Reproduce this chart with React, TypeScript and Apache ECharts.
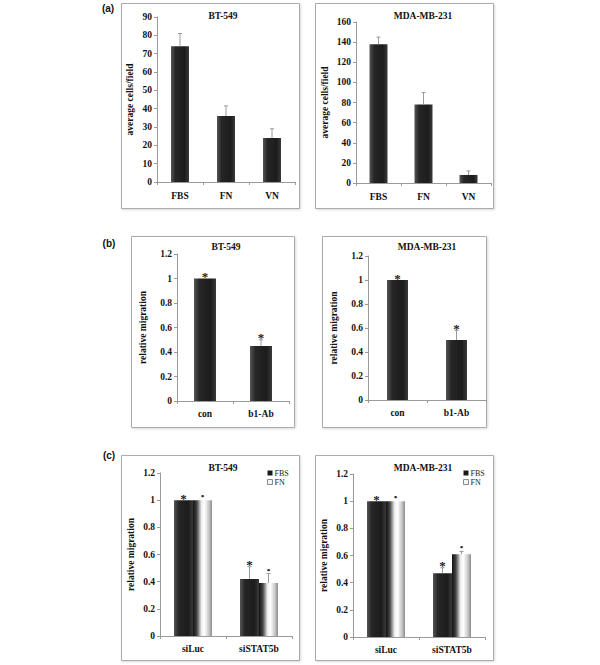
import React, { useEffect, useRef } from "react";
import * as echarts from "echarts";

// ---------- data ----------
const catsA = ["FBS", "FN", "VN"];
const bt549CellsA = [74, 36, 24];
const bt549CellsAErr = [7, 5.5, 5];
const mdaCellsA = [138, 78, 8];
const mdaCellsAErr = [7, 12, 4];

const catsB = ["con", "b1-Ab"];
const bt549MigB = [1, 0.45];
const bt549MigBErr = [0, 0.05];
const mdaMigB = [1, 0.5];
const mdaMigBErr = [0, 0.08];
const marksB = ["*", "*"];

const catsC = ["siLuc", "siSTAT5b"];
const bt549FbsC = [1, 0.42];
const bt549FbsCErr = [0, 0.09];
const bt549FnC = [1, 0.39];
const bt549FnCErr = [0, 0.07];
const mdaFbsC = [1, 0.47];
const mdaFbsCErr = [0, 0.04];
const mdaFnC = [1, 0.61];
const mdaFnCErr = [0, 0.02];
const marksFbsC = ["*", "*"];
const marksFnC = ["•", "•"];

const legendC = ["FBS", "FN"];

// ---------- styles / layout ----------
const SERIF = '"Liberation Serif", "Times New Roman", serif';
const SANS = '"Liberation Sans", Arial, sans-serif';
const AXIS_COLOR = "#9a9a9a";
const ERR_COLOR = "#9a9a9a";

const darkBar = new echarts.graphic.LinearGradient(0, 0, 1, 0, [
  { offset: 0, color: "#555" },
  { offset: 0.25, color: "#262626" },
  { offset: 0.75, color: "#1c1c1c" },
  { offset: 1, color: "#3a3a3a" },
]);
const lightBar = new echarts.graphic.LinearGradient(0, 0, 1, 0, [
  { offset: 0, color: "#111" },
  { offset: 0.2, color: "#444" },
  { offset: 0.45, color: "#eee" },
  { offset: 0.6, color: "#fff" },
  { offset: 0.85, color: "#c4c4c4" },
  { offset: 1, color: "#8a8a8a" },
]);

const grids = [
  { left: 157, top: 17, width: 138, height: 165 },
  { left: 356, top: 22, width: 135, height: 161 },
  { left: 177, top: 254, width: 112, height: 147 },
  { left: 368, top: 256, width: 118, height: 144 },
  { left: 160, top: 473, width: 132, height: 163 },
  { left: 353, top: 474, width: 132, height: 163 },
];

const boxes = [
  [121, 3, 178, 205],
  [315, 3, 178, 205],
  [131, 236, 163, 191],
  [322, 236, 164, 191],
  [121, 455, 178, 205],
  [315, 455, 178, 205],
];

const titles: [string, number, number][] = [
  ["BT-549", 223, 16],
  ["MDA-MB-231", 423, 16],
  ["BT-549", 226, 247],
  ["MDA-MB-231", 427, 247],
  ["BT-549", 223, 468],
  ["MDA-MB-231", 423, 468],
];

const panelLabels: [string, number, number][] = [
  ["(a)", 108, 8],
  ["(b)", 109, 243],
  ["(c)", 109, 455],
];

function xAxisFor(gi: number, cats: string[], margin: number) {
  return {
    type: "category",
    gridIndex: gi,
    data: cats,
    axisLine: { show: true, lineStyle: { color: AXIS_COLOR, width: 1 } },
    axisTick: { show: true, length: 3, lineStyle: { color: AXIS_COLOR } },
    axisLabel: {
      margin,
      color: "#111",
      fontFamily: SERIF,
      fontWeight: "bold",
      fontSize: 9.5,
      interval: 0,
    },
    splitLine: { show: false },
  };
}

function yAxisFor(
  gi: number,
  max: number,
  interval: number,
  name: string,
  nameGap: number
) {
  return {
    type: "value",
    gridIndex: gi,
    min: 0,
    max,
    interval,
    name,
    nameLocation: "middle",
    nameRotate: 90,
    nameGap,
    nameTextStyle: {
      color: "#111",
      fontFamily: SERIF,
      fontWeight: "bold",
      fontSize: 9.5,
    },
    axisLine: { show: true, lineStyle: { color: AXIS_COLOR, width: 1 } },
    axisTick: { show: true, length: 3, lineStyle: { color: AXIS_COLOR } },
    axisLabel: {
      margin: 5,
      color: "#111",
      fontFamily: SERIF,
      fontWeight: "bold",
      fontSize: 9.5,
    },
    splitLine: { show: false },
  };
}

function barSeries(
  gi: number,
  name: string,
  values: number[],
  color: any,
  barWidth: number
) {
  return {
    type: "bar",
    name,
    xAxisIndex: gi,
    yAxisIndex: gi,
    data: values,
    barWidth,
    barGap: "0%",
    itemStyle: { color },
    silent: true,
  };
}

function errSeries(
  gi: number,
  values: number[],
  errs: number[],
  marks: string[] | null,
  offset: number
) {
  return {
    type: "custom",
    xAxisIndex: gi,
    yAxisIndex: gi,
    z: 5,
    silent: true,
    data: values.map((v, i) => [i, v, errs[i]]),
    renderItem: (params: any, api: any) => {
      const i = api.value(0);
      const v = api.value(1);
      const e = api.value(2);
      const base = api.coord([i, v]);
      const top = api.coord([i, v + e]);
      const cx = base[0] + offset;
      const children: any[] = [];
      if (e > 0) {
        children.push({
          type: "line",
          shape: { x1: cx, y1: base[1], x2: cx, y2: top[1] },
          style: { stroke: ERR_COLOR, lineWidth: 1 },
        });
        children.push({
          type: "line",
          shape: { x1: cx - 2, y1: top[1], x2: cx + 2, y2: top[1] },
          style: { stroke: ERR_COLOR, lineWidth: 1 },
        });
      }
      const m = marks ? marks[params.dataIndex] : "";
      if (m) {
        const star = m === "*";
        children.push({
          type: "text",
          x: cx,
          y: top[1] + (star ? -2 : -4),
          style: {
            text: m,
            textAlign: "center",
            textVerticalAlign: "middle",
            fontFamily: SERIF,
            fontWeight: "bold",
            fontSize: star ? 13 : 9,
            fill: "#222",
          },
        });
      }
      return { type: "group", children };
    },
  };
}

function legendFor(left: number, top: number) {
  return {
    left,
    top,
    orient: "vertical",
    itemWidth: 5,
    itemHeight: 5,
    itemGap: 1,
    icon: "rect",
    selectedMode: false,
    padding: 0,
    textStyle: { fontFamily: SERIF, fontSize: 8, color: "#222", padding: [0, 0, 0, -3] },
    data: [
      { name: legendC[0], itemStyle: { color: "#1a1a1a" } },
      {
        name: legendC[1],
        itemStyle: { color: "#f4f4f4", borderColor: "#8a8a8a", borderWidth: 1 },
      },
    ],
  };
}

export default function App() {
  const ref = useRef<HTMLDivElement>(null);

  useEffect(() => {
    if (!ref.current) return;
    const chart = echarts.init(ref.current, null, { renderer: "svg" });

    const graphics: any[] = [];
    boxes.forEach(([x, y, w, h]) => {
      graphics.push({
        type: "rect",
        shape: { x: x + 0.5, y: y + 0.5, width: w, height: h },
        style: {
          fill: "#fff",
          stroke: "#ababab",
          lineWidth: 1,
          shadowBlur: 2,
          shadowColor: "rgba(0,0,0,0.15)",
          shadowOffsetX: 1,
          shadowOffsetY: 1,
        },
        z: -10,
      });
    });
    titles.forEach(([t, x, y]) => {
      graphics.push({
        type: "text",
        x,
        y,
        style: {
          text: t,
          textAlign: "center",
          textVerticalAlign: "middle",
          fontFamily: SERIF,
          fontWeight: "bold",
          fontSize: 9.5,
          fill: "#111",
        },
      });
    });
    panelLabels.forEach(([t, x, y]) => {
      graphics.push({
        type: "text",
        x,
        y,
        style: {
          text: t,
          textAlign: "center",
          textVerticalAlign: "middle",
          fontFamily: SANS,
          fontWeight: "bold",
          fontSize: 10,
          fill: "#111",
        },
      });
    });

    const option: any = {
      animation: false,
      backgroundColor: "#fff",
      grid: grids.map((g) => ({ ...g, containLabel: false })),
      xAxis: [
        xAxisFor(0, catsA, 9),
        xAxisFor(1, catsA, 9),
        xAxisFor(2, catsB, 8),
        xAxisFor(3, catsB, 8),
        xAxisFor(4, catsC, 8),
        xAxisFor(5, catsC, 8),
      ],
      yAxis: [
        yAxisFor(0, 90, 10, "average cells/field", 22),
        yAxisFor(1, 160, 20, "average cells/field", 26),
        yAxisFor(2, 1.2, 0.2, "relative migration", 29),
        yAxisFor(3, 1.2, 0.2, "relative migration", 29),
        yAxisFor(4, 1.2, 0.2, "relative migration", 24),
        yAxisFor(5, 1.2, 0.2, "relative migration", 24),
      ],
      legend: [legendFor(267, 469), legendFor(463, 469)],
      series: [
        barSeries(0, "BT-549 cells", bt549CellsA, darkBar, 18),
        errSeries(0, bt549CellsA, bt549CellsAErr, null, 0),
        barSeries(1, "MDA cells", mdaCellsA, darkBar, 18),
        errSeries(1, mdaCellsA, mdaCellsAErr, null, 0),
        barSeries(2, "BT-549 mig", bt549MigB, darkBar, 22),
        errSeries(2, bt549MigB, bt549MigBErr, marksB, 0),
        barSeries(3, "MDA mig", mdaMigB, darkBar, 21),
        errSeries(3, mdaMigB, mdaMigBErr, marksB, 0),
        barSeries(4, "FBS", bt549FbsC, darkBar, 19),
        barSeries(4, "FN", bt549FnC, lightBar, 19),
        errSeries(4, bt549FbsC, bt549FbsCErr, marksFbsC, -9.5),
        errSeries(4, bt549FnC, bt549FnCErr, marksFnC, 9.5),
        barSeries(5, "FBS", mdaFbsC, darkBar, 19),
        barSeries(5, "FN", mdaFnC, lightBar, 19),
        errSeries(5, mdaFbsC, mdaFbsCErr, marksFbsC, -9.5),
        errSeries(5, mdaFnC, mdaFnCErr, marksFnC, 9.5),
      ],
      graphic: graphics,
    };

    chart.setOption(option);
    return () => chart.dispose();
  }, []);

  return (
    <div
      ref={ref}
      style={{
        position: "absolute",
        left: 0,
        top: 0,
        width: 600,
        height: 665,
        background: "#fff",
      }}
    />
  );
}
